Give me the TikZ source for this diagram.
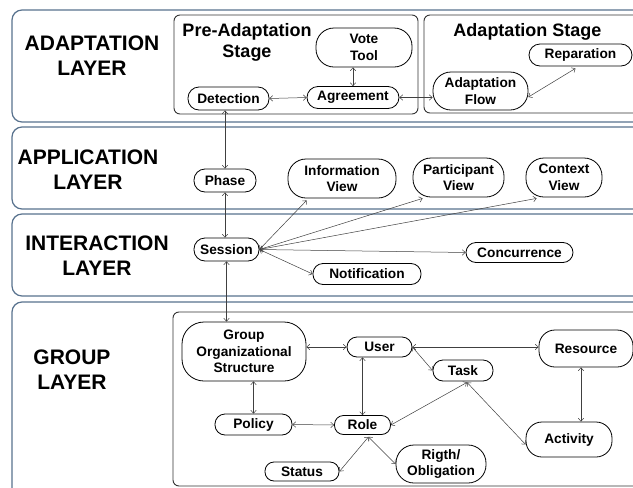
\documentclass[tikz,border=0pt]{standalone}
\usepackage{fontspec}
\setmainfont{Liberation Sans}
\usetikzlibrary{arrows.meta,calc}
\definecolor{layerc}{RGB}{88,114,142}
\begin{document}
\begin{tikzpicture}[x=1pt,y=-1pt,
  layer/.style={draw=layerc, line width=1.2pt, rounded corners=10pt},
  stagebox/.style={draw=black!80, line width=0.9pt, rounded corners=6pt},
  lbl/.style={font=\fontsize{21}{25}\selectfont\bfseries, align=center, inner sep=0pt},
  ttl/.style={font=\fontsize{18}{21}\selectfont\bfseries, align=center, inner sep=0pt},
  nd/.style={draw=black, line width=0.8pt, font=\fontsize{13.7}{16.5}\selectfont\bfseries, align=center, inner sep=0pt, rounded corners=#1},
  nd/.default=10pt,
  con/.style={draw=black!75, line width=0.5pt, <->, >={Straight Barb[length=3pt,width=5.5pt]}},
]
\useasboundingbox (0,0) rectangle (633,488);
\fill[white] (0,0) rectangle (633,488);
\clip (0,0) rectangle (633,488);

% layers
\draw[layer] (12,10) rectangle (660,122);
\draw[layer] (12,127) rectangle (660,209);
\draw[layer] (12,214) rectangle (660,296);
\draw[layer] (12,302) rectangle (660,520);

\node[lbl] (lad) at (92,55.5) {ADAPTATION\\LAYER};
\node[lbl] (lap) at (88,170) {APPLICATION\\LAYER};
\node[lbl] (lin) at (97,255.5) {INTERACTION\\LAYER};
\node[lbl] (lgr) at (72,370) {GROUP\\LAYER};

% stage boxes
\draw[stagebox] (174,15) rectangle (418,114);
\draw[stagebox] (424,15) rectangle (660,113);
\draw[stagebox] (173,312) rectangle (660,486);

\node[ttl] (tpre) at (247,42.5) {Pre-Adaptation\\Stage};
\node[ttl] (tad) at (527.5,32) {Adaptation Stage};

% adaptation layer nodes
\node[nd=11pt, minimum width=81pt, minimum height=23pt] (det) at (228.5,98.5) {Detection};
\node[nd=11pt, minimum width=92pt, minimum height=22pt] (agr) at (353,97.5) {Agreement};
\node[nd=18pt, minimum width=96pt, minimum height=39pt] (vote) at (364,47.5) {Vote\\Tool};
\node[nd=18pt, minimum width=95pt, minimum height=38pt] (af) at (480.5,91) {Adaptation\\Flow};
\node[nd=11pt, minimum width=103pt, minimum height=22pt] (rep) at (580.5,55) {Reparation};

% application layer nodes
\node[nd=11pt, minimum width=62pt, minimum height=23pt] (pha) at (225,180.5) {Phase};
\node[nd=18pt, minimum width=108pt, minimum height=39pt] (info) at (342,178.5) {Information\\View};
\node[nd=18pt, minimum width=91pt, minimum height=39pt] (part) at (458.5,177.5) {Participant\\View};
\node[nd=18pt, minimum width=76pt, minimum height=39pt] (ctx) at (564,177.5) {Context\\View};

% interaction layer nodes
\node[nd=11pt, minimum width=65pt, minimum height=23pt] (ses) at (226.5,249.5) {Session};
\node[nd=10pt, minimum width=107pt, minimum height=20pt] (conc) at (519.5,252.5) {Concurrence};
\node[nd=10pt, minimum width=108pt, minimum height=21pt] (noti) at (367,274) {Notification};

% group layer nodes
\node[nd=22pt, minimum width=124pt, minimum height=59pt] (gos) at (244,351.5) {Group\\Organizational\\Structure};
\node[nd=10pt, minimum width=77pt, minimum height=21pt] (pol) at (253.5,424.5) {Policy};
\node[nd=9pt, minimum width=74pt, minimum height=19pt] (sta) at (302,471.5) {Status};
\node[nd=10pt, minimum width=65pt, minimum height=20pt] (use) at (379.5,347) {User};
\node[nd=10pt, minimum width=60pt, minimum height=21pt] (tas) at (463,370.5) {Task};
\node[nd=16pt, minimum width=94pt, minimum height=37pt] (res) at (586,348.5) {Resource};
\node[nd=9pt, minimum width=56pt, minimum height=19pt] (rol) at (362.5,425) {Role};
\node[nd=16pt, minimum width=86pt, minimum height=35pt] (act) at (569,439.5) {Activity};
\node[nd=18pt, minimum width=90pt, minimum height=38pt] (rig) at (441,464) {Rigth/\\Obligation};

% connectors
\draw[con] (det.east) -- (agr.west);
\draw[con] (agr.north) -- (agr.north |- vote.south);
\draw[con] (agr.east) -- (agr.east -| af.west);
\draw[con] ($(af.east)+(0,6)$) -- ($(rep.south)+(-5,2)$);
\draw[con] (det.south -| pha.north) -- (pha.north);
\draw[con] (pha.south) -- (pha.south |- ses.north);
\draw[con] (ses.east) -- ($(info.south west)+(19,2)$);
\draw[con] (ses.east) -- ($(part.south west)+(10,1)$);
\draw[con] (ses.east) -- ($(ctx.south west)+(11,1)$);
\draw[con] (ses.east) -- (conc.west);
\draw[con] (ses.east) -- (noti.west);
\draw[con] (ses.south) -- (ses.south |- gos.north);
\draw[con] (gos.east |- use.west) -- (use.west);
\draw[con] (use.east) -- (use.east -| res.west);
\draw[con] (use.east) -- (tas.west);
\draw[con] (gos.south -| pol.north) -- (pol.north);
\draw[con] (pol.east) -- (rol.west);
\draw[con] (rol.north) -- (rol.north |- use.south);
\coordinate (ts) at ($(tas.south)+(4,1)$);
\draw[con] (ts) -- (rol.east);
\draw[con] (ts) -- ($(act.west)+(0,5)$);
\coordinate (rs) at ($(res.south)+(-5,0)$);
\draw[con] (rs) -- (rs |- act.north);
\coordinate (rb) at ($(rol.south)+(6,2)$);
\draw[con] (rb) -- (sta.east);
\draw[con] (rb) -- (rig.west);
\end{tikzpicture}
\end{document}
